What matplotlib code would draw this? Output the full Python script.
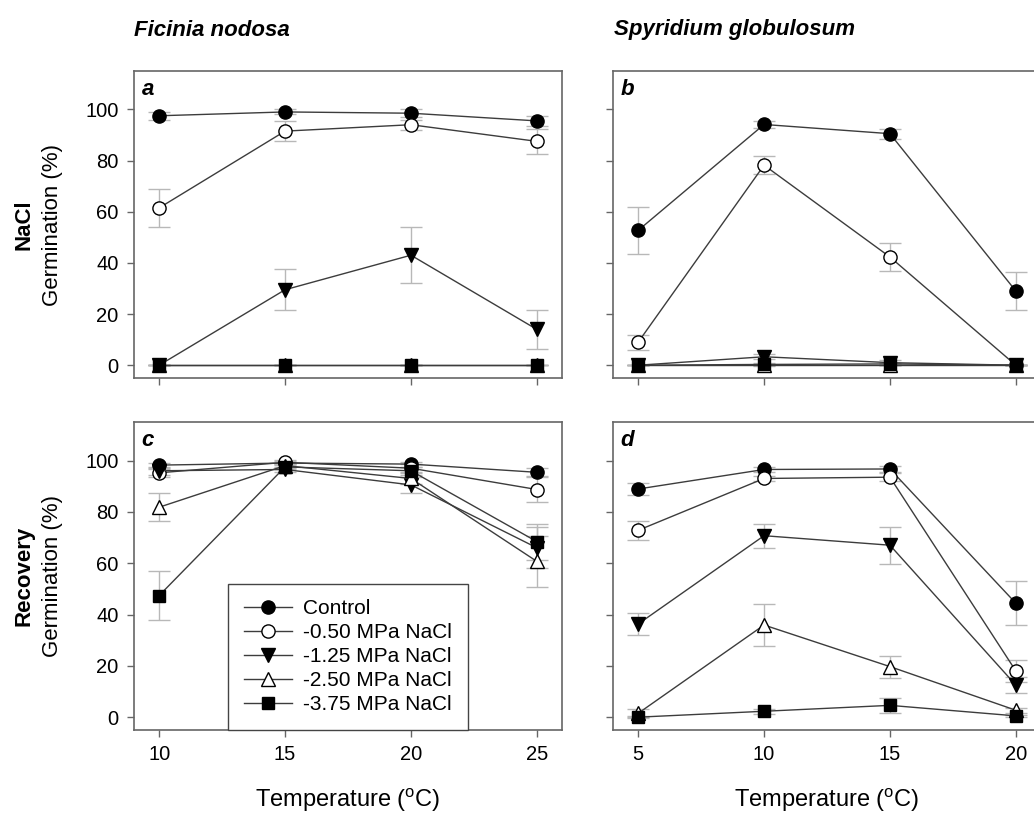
import matplotlib
matplotlib.use("Agg")
import matplotlib.pyplot as plt

plt.rcParams["font.family"] = ["Liberation Sans", "DejaVu Sans"]
plt.rcParams["mathtext.fontset"] = "custom"
plt.rcParams["mathtext.rm"] = "Liberation Sans"

# temperatures (x)
temps_fn = [10, 15, 20, 25]
temps_sg = [5, 10, 15, 20]

labels = ["Control", "-0.50 MPa NaCl", "-1.25 MPa NaCl", "-2.50 MPa NaCl", "-3.75 MPa NaCl"]

# Ficinia nodosa, NaCl (panel a) - rows follow labels
fn_nacl_mean = [
    [97.5, 99.0, 98.5, 95.5],
    [61.5, 91.5, 94.0, 87.5],
    [0.0, 29.5, 43.0, 14.0],
    [0.0, 0.0, 0.0, 0.0],
    [0.0, 0.0, 0.0, 0.0],
]
fn_nacl_err = [
    [1.5, 1.0, 1.5, 2.0],
    [7.5, 3.8, 2.0, 5.0],
    [0.0, 8.0, 11.0, 7.5],
    [0.0, 0.0, 0.0, 0.0],
    [0.0, 0.0, 0.0, 0.0],
]

# Spyridium globulosum, NaCl (panel b)
sg_nacl_mean = [
    [52.7, 94.1, 90.5, 29.0],
    [9.0, 78.2, 42.3, 0.0],
    [0.0, 3.3, 1.0, 0.0],
    [0.0, 0.0, 0.0, 0.0],
    [0.0, 0.3, 0.5, 0.0],
]
sg_nacl_err = [
    [9.3, 1.5, 2.0, 7.5],
    [3.0, 3.5, 5.5, 0.0],
    [0.0, 1.0, 1.0, 0.0],
    [0.0, 0.0, 0.0, 0.0],
    [0.0, 0.5, 0.5, 0.0],
]

# Ficinia nodosa, recovery (panel c)
fn_rec_mean = [
    [98.2, 99.0, 98.6, 95.4],
    [95.2, 99.3, 97.0, 88.7],
    [96.0, 96.5, 90.5, 66.0],
    [81.8, 98.0, 93.0, 60.7],
    [47.4, 97.5, 96.0, 68.4],
]
fn_rec_err = [
    [1.0, 0.8, 1.0, 1.5],
    [1.5, 0.8, 1.5, 5.0],
    [1.5, 1.0, 3.0, 8.0],
    [5.5, 1.0, 2.0, 10.0],
    [9.7, 1.0, 1.5, 7.0],
]

# Spyridium globulosum, recovery (panel d)
sg_rec_mean = [
    [88.9, 96.5, 96.7, 44.4],
    [72.8, 93.0, 93.5, 18.0],
    [36.3, 70.7, 67.0, 12.5],
    [1.5, 35.9, 19.7, 2.7],
    [0.0, 2.3, 4.6, 0.5],
]
sg_rec_err = [
    [2.5, 1.0, 1.0, 8.6],
    [3.8, 1.0, 1.5, 4.3],
    [4.3, 4.7, 7.2, 3.0],
    [1.5, 8.3, 4.3, 1.0],
    [0.5, 1.0, 3.0, 0.5],
]

STYLES = [
    ("o", "black", 9.5),
    ("o", "white", 9.5),
    ("v", "black", 9.5),
    ("^", "white", 9.5),
    ("s", "black", 8.0),
]
LINE_C = "#3c3c3c"
ERR_C = "#b8b8b8"
SPINE_C = "#666666"


def draw_panel(ax, temps, means, errs, letter, show_ylabels, show_xlabels):
    for mean, err in zip(means, errs):
        ax.errorbar(temps, mean, yerr=err, fmt="none", ecolor=ERR_C,
                    elinewidth=1.0, capsize=8, capthick=1.0, zorder=1)
    handles = []
    for (marker, face, size), mean, label in zip(STYLES, means, labels):
        (h,) = ax.plot(temps, mean, color=LINE_C, lw=1.0, marker=marker,
                       markersize=size, markerfacecolor=face,
                       markeredgecolor="black", markeredgewidth=1.0,
                       label=label, zorder=3)
        handles.append(h)
    ax.set_xlim(temps[0] - 1, temps[-1] + 1)
    ax.set_ylim(-5, 115)
    ax.set_xticks(temps)
    ax.set_yticks([0, 20, 40, 60, 80, 100])
    ax.tick_params(direction="out", length=5, width=1, color=SPINE_C,
                   labelsize=14.5, pad=6, top=False, right=False)
    if not show_ylabels:
        ax.set_yticklabels([])
    if not show_xlabels:
        ax.set_xticklabels([])
    for sp in ax.spines.values():
        sp.set_color(SPINE_C)
        sp.set_linewidth(1.2)
    ax.text(0.018, 0.975, letter, transform=ax.transAxes, ha="left", va="top",
            fontsize=16, fontweight="bold", fontstyle="italic")
    return handles


def main() -> None:
    fig = plt.figure(figsize=(10.34, 8.18), dpi=100)
    W, H = 1034.0, 818.0

    def box(x0, y0, x1, y1):
        return [x0 / W, 1 - y1 / H, (x1 - x0) / W, (y1 - y0) / H]

    ax_a = fig.add_axes(box(134, 71, 562, 378))
    ax_b = fig.add_axes(box(613, 71, 1041, 378))
    ax_c = fig.add_axes(box(134, 422, 562, 730))
    ax_d = fig.add_axes(box(613, 422, 1041, 730))

    draw_panel(ax_a, temps_fn, fn_nacl_mean, fn_nacl_err, "a", True, False)
    draw_panel(ax_b, temps_sg, sg_nacl_mean, sg_nacl_err, "b", False, False)
    handles = draw_panel(ax_c, temps_fn, fn_rec_mean, fn_rec_err, "c", True, True)
    draw_panel(ax_d, temps_sg, sg_rec_mean, sg_rec_err, "d", False, True)

    leg = ax_c.legend(handles=handles, loc="lower left",
                      bbox_to_anchor=((228 - 134) / 428.0, 0.0),
                      borderaxespad=0, fontsize=15, frameon=True,
                      fancybox=False, framealpha=1, edgecolor="#444444",
                      handlelength=2.3, handletextpad=0.55, labelspacing=0.24,
                      borderpad=0.75)
    leg.get_frame().set_linewidth(1.0)
    leg.set_zorder(5)

    # species titles
    fig.text(134 / W, 1 - 30 / H, "Ficinia nodosa", fontsize=16,
             fontweight="bold", fontstyle="italic", ha="left", va="center")
    fig.text(614 / W, 1 - 30 / H, "Spyridium globulosum", fontsize=16,
             fontweight="bold", fontstyle="italic", ha="left", va="center")

    # row labels
    for yc, row in [(224.5, "NaCl"), (576, "Recovery")]:
        fig.text(24 / W, 1 - yc / H, row, fontsize=16, fontweight="bold",
                 rotation=90, ha="center", va="center")
        fig.text(53 / W, 1 - yc / H, "Germination (%)", fontsize=16,
                 rotation=90, ha="center", va="center")

    xlabel = r"Temperature ($^{\mathrm{o}}$C)"
    fig.text(348 / W, 1 - 800 / H, xlabel, fontsize=17, ha="center", va="center")
    fig.text(827 / W, 1 - 800 / H, xlabel, fontsize=17, ha="center", va="center")

    fig.savefig("out.png", dpi=100)
    plt.close(fig)


if __name__ == "__main__":
    main()
